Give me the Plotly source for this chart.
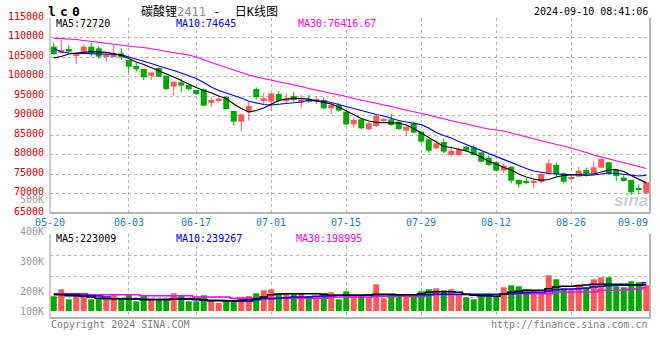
import plotly.graph_objects as go

# ---------------- data ----------------
tick_labels = ["05-20", "06-03", "06-17", "07-01", "07-15", "07-29", "08-12", "08-26", "09-09"]
tick_index = [0, 10, 19, 29, 39, 49, 59, 69, 79]

price_ticks = [115000, 110000, 105000, 100000, 95000, 90000, 85000, 80000, 75000, 70000, 65000]
vol_tick_labels = ["500K", "400K", "300K", "200K", "100K"]

opens = [107650, 106110, 107050, 105510, 106370, 107650, 107220, 105080, 105080, 105940,
         104230, 102690, 101920, 100210, 102180, 100210, 97390, 98500, 97820, 96540,
         96710, 93290, 93720, 94830, 91150, 88420, 90810, 96790, 93720, 93550,
         95510, 93720, 95000, 93290, 94140, 93720, 93970, 91840, 92690, 90980,
         87730, 89020, 86450, 87310, 88800, 89020, 88420, 86110, 87990, 85850,
         83890, 81580, 83200, 79870, 79870, 82010, 81840, 80560, 79190, 77990,
         75850, 76880, 73460, 73030, 72780, 73030, 75170, 77310, 75170, 73890,
         74320, 76030, 75170, 76620, 77990, 76030, 74060, 73460, 71330, 70040]
highs = [108670, 109360, 108075, 105940, 108075, 108670, 107820, 105940, 108075, 107220,
         104300, 103550, 101920, 101070, 102350, 100210, 98670, 99360, 98420, 96540,
         96960, 94660, 94830, 94830, 91150, 90300, 93550, 97220, 95680, 95680,
         96280, 95680, 95940, 95255, 95255, 94830, 94660, 93290, 93290, 90980,
         89530, 89020, 88420, 90130, 89440, 90380, 88420, 87140, 88420, 85850,
         83890, 83720, 84060, 82180, 81840, 82260, 82430, 80560, 79620, 78330,
         77740, 77050, 73720, 73890, 73630, 75340, 78850, 77910, 75430, 74910,
         76880, 76620, 78160, 79270, 78160, 76030, 74740, 73460, 72350, 73030]
lows = [105600, 105940, 106300, 103200, 106370, 105100, 104650, 103800, 104900, 104230,
        101070, 101240, 99100, 99100, 99790, 96540, 95080, 95940, 96370, 95260,
        92430, 92260, 93290, 91580, 87390, 85850, 88670, 94140, 92950, 91240,
        93380, 93120, 93550, 92093, 93290, 92950, 91580, 90380, 90980, 87560,
        86880, 86450, 86280, 87140, 88160, 87310, 86280, 84830, 85430, 82860,
        80470, 81410, 80300, 79440, 79620, 80730, 79700, 77910, 77050, 75680,
        75170, 72610, 71580, 72350, 71500, 72610, 75000, 74320, 72610, 73460,
        74150, 74320, 74910, 76450, 74740, 73200, 73030, 69620, 69790, 70040]
closes = [105770, 106790, 106370, 105940, 107650, 105940, 105080, 105430, 105510, 104910,
          102520, 101840, 99790, 101070, 99960, 96790, 98670, 97650, 96790, 95510,
          92520, 93970, 94320, 91670, 88420, 90300, 92435, 94660, 94400, 95680,
          93800, 94400, 93970, 94140, 93550, 94230, 91840, 92690, 91240, 87730,
          88850, 86710, 87990, 89870, 88850, 87560, 86540, 87140, 85600, 83290,
          80980, 82860, 80730, 80980, 81330, 80980, 79870, 78160, 77310, 75850,
          77140, 73290, 72350, 72860, 73290, 75000, 77740, 75000, 73030, 74060,
          75850, 75170, 76710, 78850, 75170, 74490, 73200, 70300, 71070, 72860]
volumes = [125000, 184500, 99500, 133500, 125000, 99500, 104500, 99500, 142000, 104500,
           142000, 82500, 127500, 96000, 99500, 104500, 150500, 127500, 82500, 82500,
           133500, 91000, 68000, 96000, 96000, 116500, 127500, 150500, 176000, 184500,
           147000, 147000, 142000, 147000, 127500, 127500, 150500, 159000, 99500, 167500,
           142000, 127500, 119000, 227000, 108000, 142000, 142000, 125000, 125000, 167500,
           184500, 193000, 176000, 184500, 142000, 116500, 99500, 133500, 147000, 125000,
           201500, 218500, 210000, 184500, 176000, 159000, 303500, 269500, 193000, 184500,
           227000, 198000, 269500, 286500, 286500, 210000, 201500, 252500, 244000, 218500]

ma5 = [104790, 105130, 105770, 106080, 106200, 106360, 106280, 106200, 105900, 105430,
       104610, 103720, 103080, 102310, 101410, 100640, 99870, 98970, 97970, 97180,
       96410, 95850, 95000, 94360, 92950, 91790, 90900, 91280, 91920, 92950,
       93850, 94230, 94410, 94360, 94180, 93720, 93260, 92950, 92180, 91150,
       90130, 89230, 88590, 88200, 88150, 88150, 88080, 87560, 86670, 85510,
       84360, 83080, 82050, 81790, 81410, 80900, 80260, 79360, 78200, 77560,
       76670, 76030, 75000, 74230, 73720, 73380, 73590, 74230, 74620, 74790,
       75000, 75000, 75000, 75510, 76030, 76150, 75640, 74620, 73590, 72720]
ma10 = [107180, 106280, 106020, 105950, 105900, 105900, 105850, 105820, 105770, 105590,
        105000, 104490, 103840, 103330, 102690, 102180, 101540, 100900, 100130, 99490,
        98460, 97310, 96410, 95770, 95130, 94490, 93640, 93200, 92820, 92690,
        92870, 93020, 93200, 93460, 93900, 93850, 93640, 93330, 92820, 92310,
        91670, 91150, 90770, 90260, 89870, 89230, 88720, 88330, 87950, 87640,
        86790, 85640, 84870, 84230, 83330, 82560, 81790, 81030, 80130, 79360,
        78590, 77820, 77050, 76410, 75770, 75380, 75130, 75000, 74870, 74740,
        74620, 74620, 74740, 75000, 75260, 75130, 74870, 74620, 74490, 74645]
ma30 = [109820, 109740, 109610, 109490, 109230, 108970, 108720, 108460, 108200, 107950,
        107690, 107560, 107430, 107180, 106790, 106410, 106150, 105900, 105510, 105000,
        104230, 103590, 102950, 102310, 101540, 100900, 100380, 99870, 99490, 99100,
        98720, 98200, 97820, 97430, 96920, 96540, 96020, 95640, 95260, 94870,
        94360, 93970, 93460, 93080, 92690, 92310, 91790, 91410, 91020, 90640,
        90130, 89610, 89100, 88720, 88200, 87820, 87310, 86920, 86540, 86280,
        86020, 85510, 85000, 84490, 84100, 83590, 83080, 82560, 82180, 81670,
        81150, 80510, 79870, 79360, 78850, 78330, 77820, 77310, 76900, 76417]

vma5 = [138800, 138800, 130300, 130300, 124700, 119000, 107700, 104800, 104800, 104800,
        104800, 102000, 96300, 96300, 96300, 96300, 99200, 102000, 104800, 102000,
        96300, 88000, 88000, 88000, 88000, 90700, 96300, 104800, 119000, 138800,
        144500, 147300, 147300, 147300, 147300, 147300, 141700, 133200, 133200, 133200,
        133200, 133200, 136000, 141700, 141700, 141700, 138800, 138800, 138800, 147300,
        158700, 164300, 164300, 164300, 158700, 141700, 133200, 130300, 127500, 124700,
        141700, 158700, 167200, 175700, 175700, 175700, 189800, 204000, 209700, 209700,
        215300, 221000, 226700, 226700, 226700, 226700, 226700, 223800, 221000, 223009]
vma10 = [141700, 141700, 141700, 141700, 136000, 130300, 127500, 119000, 104800, 104800,
         104800, 102000, 99200, 99200, 99200, 99200, 99200, 99200, 99200, 96300,
         90700, 90700, 90700, 87800, 85000, 82200, 82200, 96300, 104800, 104800,
         107700, 113300, 119000, 119000, 119000, 124700, 127500, 130300, 133200, 133200,
         133200, 133200, 136000, 138800, 138800, 138800, 138800, 138800, 138800, 138800,
         138800, 141700, 141700, 141700, 141700, 141700, 141700, 141700, 141700, 141700,
         141700, 147300, 153000, 155800, 158700, 158700, 170000, 181300, 184200, 187000,
         189800, 195500, 204000, 209700, 215300, 218200, 218200, 221000, 221000, 239267]
vma30 = [147300, 147300, 147300, 147300, 147300, 138800, 138800, 138800, 138800, 138800,
         138800, 138800, 130300, 130300, 130300, 130300, 130300, 130300, 130300, 119000,
         119000, 119000, 119000, 119000, 107700, 107700, 107700, 107700, 107700, 107700,
         107700, 107700, 107700, 107700, 107700, 107700, 107700, 119000, 119000, 119000,
         119000, 119000, 119000, 124700, 124700, 124700, 124700, 124700, 124700, 124700,
         138800, 138800, 138800, 138800, 138800, 138800, 138800, 138800, 138800, 138800,
         147300, 147300, 147300, 147300, 147300, 147300, 147300, 161500, 161500, 161500,
         161500, 161500, 161500, 175700, 175700, 175700, 175700, 187000, 187000, 198995]

# ---------------- layout helpers ----------------
W, H = 660, 360
PL, PR = 50, 650          # plot left / right (px)
MT, MB = 18, 213          # main panel top / bottom (px)
VT, VB = 234, 318         # volume panel top / bottom (px)
VOL_RANGE = [-59500, 654500]


def fx(x):
    return x / W


def fy(y):
    return 1 - y / H


RED = "#ff5858"
GREEN = "#00a800"
GRID = "#b4b4b4"
BORDER = "#9c9c9c"
LABEL_RED = "#e00000"
MONO = "DejaVu Sans Mono"

n = len(opens)
idx = list(range(n))
up = [c >= o for o, c in zip(opens, closes)]

fig = go.Figure()

# wicks
for flag, col in [(True, RED), (False, GREEN)]:
    xs, ys = [], []
    for i in idx:
        if up[i] == flag:
            xs += [i, i, None]
            ys += [lows[i], highs[i], None]
    fig.add_trace(go.Scatter(x=xs, y=ys, mode="lines", line=dict(color=col, width=1),
                             xaxis="x", yaxis="y", hoverinfo="skip", showlegend=False))

# bodies
for flag, col in [(True, RED), (False, GREEN)]:
    ii = [i for i in idx if up[i] == flag]
    base = [min(opens[i], closes[i]) for i in ii]
    hgt = [max(abs(closes[i] - opens[i]), 250) for i in ii]
    fig.add_trace(go.Bar(x=ii, y=hgt, base=base, width=0.8,
                         marker=dict(color=col, line=dict(width=0)),
                         xaxis="x", yaxis="y", hoverinfo="skip", showlegend=False))

# price MAs
for arr, col in [(ma30, "#ff00ff"), (ma10, "#0000ff"), (ma5, "#000000")]:
    fig.add_trace(go.Scatter(x=idx, y=arr, mode="lines", line=dict(color=col, width=1.2),
                             xaxis="x", yaxis="y", hoverinfo="skip", showlegend=False))

# volume bars
fig.add_trace(go.Bar(x=idx, y=volumes, width=0.8,
                     marker=dict(color=[RED if u else GREEN for u in up], line=dict(width=0)),
                     xaxis="x2", yaxis="y2", hoverinfo="skip", showlegend=False))
for arr, col in [(vma30, "#ff00ff"), (vma10, "#0000ff"), (vma5, "#000000")]:
    fig.add_trace(go.Scatter(x=idx, y=arr, mode="lines", line=dict(color=col, width=1.5, shape="hvh"),
                             xaxis="x2", yaxis="y2", hoverinfo="skip", showlegend=False))

grid_ticks = tick_index[1:-1]
xcommon = dict(range=[-0.5, n - 0.5], domain=[fx(PL), fx(PR)], tickvals=grid_ticks,
               showgrid=True, gridcolor=GRID, griddash="dot", gridwidth=1,
               showticklabels=False, ticks="", zeroline=False, showline=False, fixedrange=True)

vstep = (VOL_RANGE[1] - VOL_RANGE[0]) / 4
fig.update_layout(
    width=W, height=H, margin=dict(l=0, r=0, t=0, b=0),
    paper_bgcolor="white", plot_bgcolor="white", barmode="overlay", showlegend=False,
    xaxis=dict(anchor="y", **xcommon),
    xaxis2=dict(anchor="y2", **xcommon),
    yaxis=dict(domain=[fy(MB), fy(MT)], range=[price_ticks[-1], price_ticks[0]],
               tickvals=price_ticks[:-1], showgrid=True, gridcolor=GRID, griddash="dot",
               showticklabels=False, ticks="", zeroline=False, showline=False),
    yaxis2=dict(domain=[fy(VB), fy(VT)], range=VOL_RANGE,
                tickvals=[VOL_RANGE[0] + k * vstep for k in range(1, 5)],
                showgrid=True, gridcolor=GRID, griddash="dot",
                showticklabels=False, ticks="", zeroline=False, showline=False),
)

# borders
shapes = []
for yr in ["y", "y2"]:
    xr = "x domain" if yr == "y" else "x2 domain"
    yd = yr + " domain"
    shapes.append(dict(type="line", xref=xr, yref=yd, x0=0, x1=0, y0=0, y1=1, line=dict(color=BORDER, width=1)))
    shapes.append(dict(type="line", xref=xr, yref=yd, x0=1, x1=1, y0=0, y1=1, line=dict(color=BORDER, width=1.5)))
    shapes.append(dict(type="line", xref=xr, yref=yd, x0=0, x1=1, y0=0, y1=0, line=dict(color=BORDER, width=1.5)))
fig.update_layout(shapes=shapes)

ann = []


def text(x, y, s, color="#000000", size=10, anchor="left", family=MONO, **kw):
    ann.append(dict(x=fx(x), y=fy(y), xref="paper", yref="paper", text=s, showarrow=False,
                    xanchor=anchor, yanchor="middle",
                    font=dict(family=family, size=size, color=color), **kw))


# price tick labels
for v in price_ticks:
    ann.append(dict(x=fx(46), y=v, xref="paper", yref="y", text=str(v), showarrow=False,
                    xanchor="right", yanchor="middle", yshift=2,
                    font=dict(family=MONO, size=10, color=LABEL_RED)))

# date labels
BLUE_LAB = "#1a80d0"
for k, (lab, ti) in enumerate(zip(tick_labels, tick_index)):
    if k == 0:
        xa, xv = "center", -0.5
    elif k == len(tick_labels) - 1:
        xa, xv = "right", n - 0.5
    else:
        xa, xv = "center", ti
    ann.append(dict(x=xv, y=fy(222), xref="x", yref="paper", text=lab, showarrow=False,
                    xanchor=xa, yanchor="middle", font=dict(family=MONO, size=10, color=BLUE_LAB)))

# volume labels (Sina positions)
for lab, yy in zip(vol_tick_labels, [199, 231, 261, 291, 311]):
    text(46, yy, lab, color="#999999", anchor="right")

# headers
for ch, xx in zip("lc0", [52.3, 64, 75.7]):
    text(xx, 11, f"<b>{ch}</b>", size=13, anchor="center")
text(139, 11, "碳酸锂<span style='color:#8a8a8a'>2411</span>\u00a0-\u00a0\u00a0日K线图", size=12,
     family="DejaVu Sans Mono, Noto Sans CJK SC")
text(650, 12, "2024-09-10 08:41:06", anchor="right")

text(54, 24, f"MA5:{ma5[-1]}")
text(174, 24, f"MA10:{ma10[-1]}", color="#0000ff")
text(296, 24, f"MA30:{ma30[-1] - 0.33:.2f}", color="#ff00ff")

text(54, 238, f"MA5:{vma5[-1]}")
text(174, 238, f"MA10:{vma10[-1]}", color="#0000ff")
text(294, 238, f"MA30:{vma30[-1]}", color="#ff00ff")

text(49, 324, "Copyright 2024 SINA.COM", color="#808080")
text(650, 324, "http://finance.sina.com.cn", color="#808080", anchor="right")

text(650, 200, "<b><i>sina</i></b>", color="#cfcfcf", size=17, anchor="right", family="Liberation Sans")

fig.update_layout(annotations=ann)
fig.write_html("out.html", config={"displayModeBar": False},
               post_script="document.body.style.margin='0';document.body.style.padding='0';")
